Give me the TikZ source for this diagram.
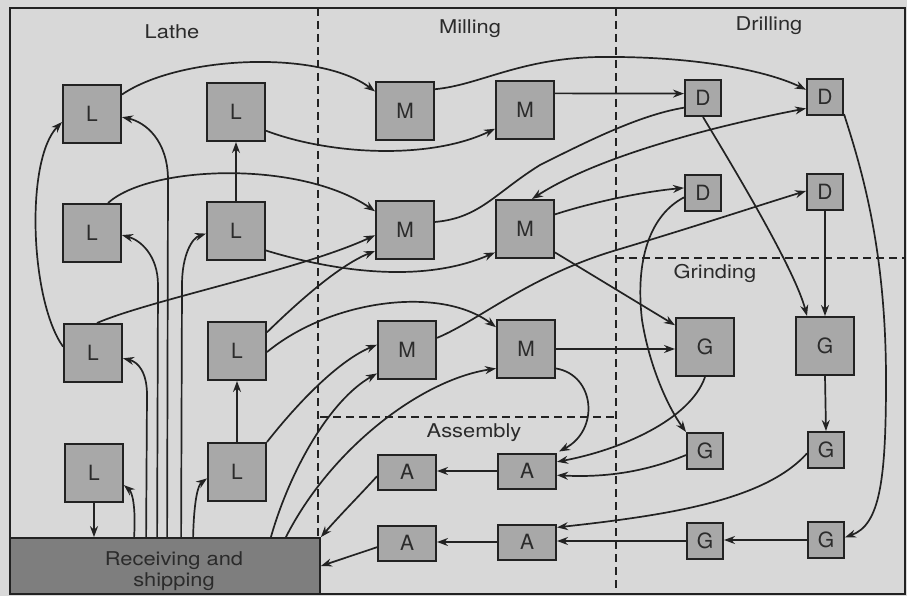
\documentclass[tikz,border=0pt]{standalone}
\usepackage{fontspec}
\setmainfont{TeX Gyre Heros}
\newfontfamily\labfont[FakeStretch=1.15]{TeX Gyre Heros}
\usetikzlibrary{arrows.meta,calc}
\definecolor{bgc}{HTML}{D8D8D8}
\definecolor{boxc}{HTML}{A8A8A8}
\definecolor{recc}{HTML}{7E7E7E}
\definecolor{linec}{HTML}{222222}
\definecolor{textc}{HTML}{2B2B2B}
\begin{document}
\begin{tikzpicture}[x=1pt,y=-1pt,
  box/.style={draw=linec, line width=2pt, fill=boxc, inner sep=0pt,
    minimum width=58pt, minimum height=58pt, font=\fontsize{21}{21}\selectfont, text=textc},
  sbox/.style={box, minimum width=36pt, minimum height=36pt},
  abox/.style={box, minimum width=58pt, minimum height=35pt},
  flow/.style={draw=linec, line width=1.7pt, -{Stealth[length=11pt,width=8pt]}},
  both/.style={draw=linec, line width=1.7pt, {Stealth[length=11pt,width=8pt]}-{Stealth[length=11pt,width=8pt]}},
  plainline/.style={draw=linec, line width=1.7pt},
  zone/.style={draw=linec, line width=1.4pt, dash pattern=on 8pt off 5pt},
  lab/.style={font=\labfont\fontsize{19}{21}\selectfont, text=textc, inner sep=0pt, align=center}]
\useasboundingbox (0,0) rectangle (907,596);
\fill[bgc] (0,0) rectangle (907,596);
\draw[linec, line width=1.8pt] (10,8) rectangle (905,594);
% zones
\draw[zone] (318,8) -- (318,538);
\draw[zone] (616,8) -- (616,594);
\draw[zone] (616,258) -- (905,258);
\draw[zone] (320,417) -- (616,417);
% labels
\node[lab] (tLathe) at (172,32) {Lathe};
\node[lab] (tMill) at (470,29) {Milling};
\node[lab] (tDrill) at (769,26) {Drilling};
\node[lab] (tGrind) at (715,273) {Grinding};
\node[lab] (tAsm) at (474,433) {Assembly};
% receiving
\node[draw=linec, line width=1.8pt, fill=recc, minimum width=310pt, minimum height=56pt, inner sep=0pt] (Recv) at (165,566) {};
\node[lab] (tRecv) at (174,571) {Receiving and\\shipping};
% lathe
\node[box] (L1) at (92,114) {L};
\node[box] (L2) at (236,112) {L};
\node[box] (L3) at (92,233) {L};
\node[box] (L4) at (236,231) {L};
\node[box] (L5) at (93,353) {L};
\node[box] (L6) at (237,351) {L};
\node[box] (L7) at (94,473) {L};
\node[box] (L8) at (237,472) {L};
% milling
\node[box] (M1) at (405,111) {M};
\node[box] (M2) at (525,110) {M};
\node[box] (M3) at (405,230) {M};
\node[box] (M4) at (525,229) {M};
\node[box] (M5) at (407,350) {M};
\node[box] (M6) at (526,349) {M};
% assembly
\node[abox] (A1) at (407,472) {A};
\node[abox] (A2) at (527,471) {A};
\node[abox] (A3) at (407,543) {A};
\node[abox] (A4) at (527,542) {A};
% drilling
\node[sbox] (D1) at (703,98) {D};
\node[sbox] (D2) at (825,97) {D};
\node[sbox] (D3) at (703,193) {D};
\node[sbox] (D4) at (825,192) {D};
% grinding
\node[box] (G1) at (705,347) {G};
\node[box] (G2) at (825,346) {G};
\node[sbox] (G3) at (705,451) {G};
\node[sbox] (G4) at (826,450) {G};
\node[sbox] (G5) at (705,541) {G};
\node[sbox] (G6) at (826,540) {G};
% lathe flows
\draw[flow] (L1.33) .. controls (180,55) and (320,50) .. (M1.147);
\draw[flow] (L2.-32) .. controls (330,155) and (430,160) .. (M2.212);
\draw[flow] ([xshift=16pt]L3.north) .. controls (150,165) and (300,160) .. (M3.148);
\draw[flow] (L4.north) -- (L2.south);
\draw[flow] (L4.-33) .. controls (330,270) and (420,285) .. (M4.218);
\draw[flow] ([xshift=4pt]L5.north) .. controls (150,300) and (300,270) .. (M3.190);
\draw[flow] (L6.32) .. controls (300,300) and (340,265) .. (M3.215);
\draw[flow] (L6.-2) .. controls (330,300) and (440,285) .. (M6.144);
\draw[flow] (L8.north) -- (L6.south);
\draw[flow] (L8.north east) .. controls (300,400) and (340,360) .. (M5.170);
\draw[flow] ([xshift=-50pt]Recv.north east) .. controls (290,470) and (330,400) .. (M5.218);
\draw[flow] ([xshift=-35pt]Recv.north east) .. controls (330,450) and (420,380) .. (M6.213);
\draw[flow] ([xshift=125pt]Recv.north west) .. controls (136,505) and (132,492) .. (L7.-22);
\draw[flow] ([xshift=137pt]Recv.north west) -- (147,395) .. controls (147,372) and (138,362) .. (L5.-10);
\draw[flow] ([xshift=148pt]Recv.north west) -- (158,285) .. controls (158,255) and (140,240) .. (L3.-4);
\draw[flow] ([xshift=158pt]Recv.north west) -- (168,180) .. controls (168,140) and (145,122) .. (L1.-6);
\draw[flow] ([xshift=172pt]Recv.north west) -- (182,285) .. controls (182,255) and (192,238) .. (L4.185);
\draw[flow] ([xshift=184pt]Recv.north west) .. controls (194,500) and (198,485) .. (L8.192);
\draw[flow] (L7.south) -- (L7.south |- Recv.north);
\draw[flow] (L5.168) .. controls (30,300) and (25,160) .. (L1.195);
% milling flows
\draw[flow] (M1.36) .. controls (480,85) and (520,58) .. (600,57) .. controls (700,56) and (770,72) .. (D2.159);
\draw[flow] (M2.29) -- (D1.167);
\draw[plainline] (M3.15) .. controls (480,218) and (495,193) .. (540,165) .. controls (590,140) and (640,115) .. (D1.207);
\draw[both] (D2.211) .. controls (720,125) and (600,155) .. (M4.77);
\draw[flow] (M4.26) .. controls (590,203) and (640,192) .. (D3.165);
\draw[flow] (M5.22) .. controls (480,320) and (530,275) .. (620,249) .. controls (700,225) and (760,205) .. (D4.177);
\draw[flow] (M4.-38) -- (G1.144);
\draw[flow] (M6.east) -- (M6.east -| G1.west);
\draw[flow] (M6.-33) .. controls (595,375) and (600,430) .. ([xshift=2pt,yshift=1pt]A2.north east);
% drilling / grinding flows
\draw[flow] (D1.south) .. controls (735,170) and (795,270) .. ([xshift=-18pt]G2.north);
\draw[flow] (D4.south) -- (G2.north);
\draw[flow] (D2.-42) .. controls (862,170) and (886,250) .. (886,380) .. controls (886,480) and (880,525) .. (G6.8);
\draw[flow] (D3.193) .. controls (650,215) and (635,260) .. (642,320) .. controls (650,370) and (670,410) .. (G3.north west);
\draw[flow] (G2.south) -- (G4.north);
\draw[flow] (G1.south) .. controls (690,420) and (620,450) .. (A2.17);
\draw[flow] (G3.192) .. controls (650,470) and (610,478) .. (A2.-8);
\draw[flow] (G4.190) .. controls (765,500) and (670,515) .. (A4.26);
\draw[flow] (G5.west) -- (G5.west -| A4.east);
\draw[flow] (G6.west) -- (G6.west -| G5.east);
% assembly flows
\draw[flow] (A2.west) -- (A2.west -| A1.east);
\draw[flow] (A4.west) -- (A4.west -| A3.east);
\draw[flow] (A1.188) .. controls (360,495) and (340,515) .. (Recv.north east);
\draw[flow] (A3.188) -- (Recv.east);
\end{tikzpicture}
\end{document}
